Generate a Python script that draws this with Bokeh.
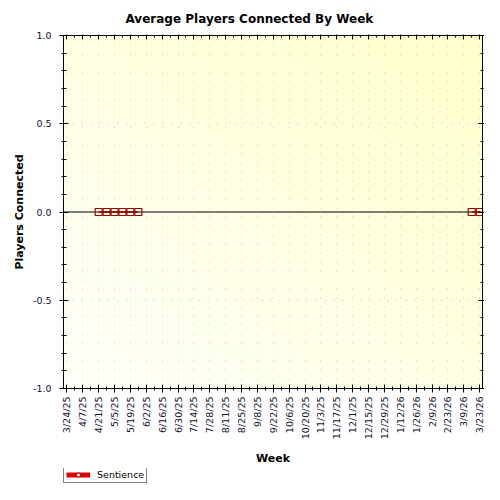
import numpy as np
import pandas as pd
from datetime import datetime
from bokeh.plotting import figure
from bokeh.layouts import column
from bokeh.models import (FixedTicker, LinearAxis, Span, Legend, LegendItem,
                          Range1d, NumeralTickFormatter)
from bokeh.embed import file_html
from bokeh.resources import INLINE

# ---------------- data ----------------
title_text = "Average Players Connected By Week"
x_label = "Week"
y_label = "Players Connected"
series_name = "Sentience"

tick_labels = ["3/24/25", "4/7/25", "4/21/25", "5/5/25", "5/19/25", "6/2/25",
               "6/16/25", "6/30/25", "7/14/25", "7/28/25", "8/11/25", "8/25/25",
               "9/8/25", "9/22/25", "10/6/25", "10/20/25", "11/3/25", "11/17/25",
               "12/1/25", "12/15/25", "12/29/25", "1/12/26", "1/26/26", "2/9/26",
               "2/23/26", "3/9/26", "3/23/26"]

point_weeks = ["4/21/25", "4/28/25", "5/5/25", "5/12/25", "5/19/25", "5/26/25",
               "3/16/26", "3/23/26"]
point_values = [0, 0, 0, 0, 0, 0, 0, 0]

y_ticks = [-1.0, -0.5, 0.0, 0.5, 1.0]
y_minor_ticks = [-1.0, -0.9, -0.8, -0.7, -0.6, -0.5, -0.4, -0.3, -0.2, -0.1, 0.0,
                 0.1, 0.2, 0.3, 0.4, 0.5, 0.6, 0.7, 0.8, 0.9, 1.0]

# ---------------- helpers ----------------
DAY = 86400000


def ms(s):
    return int(pd.Timestamp(datetime.strptime(s, "%m/%d/%y")).value // 10**6)


tick_ms = [ms(s) for s in tick_labels]
week_ms = list(range(tick_ms[0], tick_ms[-1] + 1, 7 * DAY))
px = [ms(s) for s in point_weeks]

# split the series where weeks are not consecutive
segs_x, segs_y = [[px[0]]], [[point_values[0]]]
for i in range(1, len(px)):
    if px[i] - px[i - 1] > 7 * DAY:
        segs_x.append([])
        segs_y.append([])
    segs_x[-1].append(px[i])
    segs_y[-1].append(point_values[i])

x0 = tick_ms[0] - 3 * DAY
x1 = tick_ms[-1] + 2.5 * DAY
y0, y1 = y_ticks[0], y_ticks[-1]

FONT = "DejaVu Sans"
TICK_COLOR = "#101030"

p = figure(width=484, height=468, x_axis_type="datetime",
           x_range=Range1d(x0, x1), y_range=Range1d(y0, y1),
           output_backend="svg", toolbar_location=None,
           min_border_left=63, min_border_right=2, min_border_top=34,
           min_border_bottom=80)
p.background_fill_color = "white"
p.border_fill_color = "white"
p.outline_line_color = "black"

# title
p.title.text = title_text
p.title.align = "left"
p.title.offset = 62
p.title.text_font = FONT
p.title.text_font_style = "bold"
p.title.text_font_size = "12px"
p.title.text_color = "black"
p.title.standoff = 18

# gradient background
n = 160
u = np.linspace(0, 1, n)[None, :]
v = np.linspace(0, 1, n)[:, None]
t = (u + v) / 2.0
img = np.zeros((n, n), dtype=np.uint32)
view = img.view(dtype=np.uint8).reshape((n, n, 4))
view[..., 0] = 255
view[..., 1] = 255
view[..., 2] = (250 - 46 * t).astype(np.uint8)
view[..., 3] = 255
p.image_rgba(image=[img], x=x0, y=y0, dw=x1 - x0, dh=y1 - y0, level="image")

# tickers
xt = FixedTicker(ticks=tick_ms, minor_ticks=week_ms)
yt = FixedTicker(ticks=y_ticks, minor_ticks=y_minor_ticks)

# grids
p.xgrid.ticker = xt
p.ygrid.ticker = yt
for g in (p.xgrid, p.ygrid):
    g.grid_line_color = "#c4c4c4"
    g.grid_line_dash = "1 8"
    g.grid_line_width = 1

# bottom axis
xa = p.xaxis[0]
xa.ticker = xt
xa.major_label_overrides = {m: l for m, l in zip(tick_ms, tick_labels)}
xa.major_label_orientation = np.pi / 2
xa.major_label_text_font = FONT
xa.major_label_text_font_size = "9.5px"
xa.major_label_text_color = TICK_COLOR
xa.major_label_standoff = 4
xa.major_tick_in = 4
xa.major_tick_out = 4
xa.minor_tick_in = 2
xa.minor_tick_out = 2
xa.axis_line_color = "black"
xa.axis_label = x_label
xa.axis_label_text_font = FONT
xa.axis_label_text_font_style = "bold"
xa.axis_label_text_font_size = "11px"
xa.axis_label_text_color = "black"
xa.axis_label_standoff = 10

# left axis
ya = p.yaxis[0]
ya.ticker = yt
ya.formatter = NumeralTickFormatter(format="0.0")
ya.major_label_text_font = FONT
ya.major_label_text_font_size = "9.5px"
ya.major_label_text_color = TICK_COLOR
ya.major_label_standoff = 8
ya.major_tick_in = 5
ya.major_tick_out = 4
ya.minor_tick_in = 3
ya.minor_tick_out = 2
ya.axis_line_color = "black"
ya.axis_label = y_label
ya.axis_label_text_font = FONT
ya.axis_label_text_font_style = "bold"
ya.axis_label_text_font_size = "11px"
ya.axis_label_text_color = "black"
ya.axis_label_standoff = 4

# mirrored top / right axes (ticks only)
top = LinearAxis(ticker=xt, major_label_text_color=None,
                 major_label_text_font_size="1px", major_label_standoff=0,
                 major_tick_in=4, major_tick_out=1, minor_tick_in=2,
                 minor_tick_out=0, axis_line_color="black")
right = LinearAxis(ticker=yt, major_label_text_color=None,
                   major_label_text_font_size="1px", major_label_standoff=0,
                   major_tick_in=4, major_tick_out=2, minor_tick_in=2,
                   minor_tick_out=1, axis_line_color="black")
p.add_layout(top, "above")
p.add_layout(right, "right")

# zero line
p.add_layout(Span(location=0, dimension="width", line_color="black",
                  line_width=1, level="underlay"))

# series
p.multi_line(xs=segs_x, ys=segs_y, line_color="#990000", line_width=1.5)
p.scatter(x=px, y=point_values, marker="square", size=7, fill_color=None,
          line_color="#990000", line_width=1.2)

# legend strip (separate small figure below the chart)
lf = figure(width=484, height=16, output_backend="svg", toolbar_location=None,
            title=None, min_border=0, x_range=Range1d(0, 1), y_range=Range1d(0, 1))
lf.axis.visible = False
lf.grid.visible = False
lf.outline_line_color = None
lf.background_fill_color = "white"
lf.border_fill_color = "white"
leg_line = lf.line(x=[np.nan], y=[np.nan], line_color="#E00000", line_width=5)
leg_pt = lf.scatter(x=[np.nan], y=[np.nan], marker="square", size=7,
                    fill_color="white", line_color="#B00000", line_width=1)
legend = Legend(items=[LegendItem(label=series_name, renderers=[leg_line, leg_pt])],
                location=(0, 1), orientation="horizontal",
                border_line_color="black", border_line_width=1,
                background_fill_color="white", background_fill_alpha=1,
                label_text_font=FONT, label_text_font_size="9.5px",
                label_text_color="black",
                glyph_width=24, glyph_height=9, label_height=9,
                label_standoff=7, padding=2, spacing=0, margin=0)
lf.add_layout(legend, "center")

layout = column(p, lf, spacing=0)
open("out.html", "w").write(file_html(layout, INLINE))
